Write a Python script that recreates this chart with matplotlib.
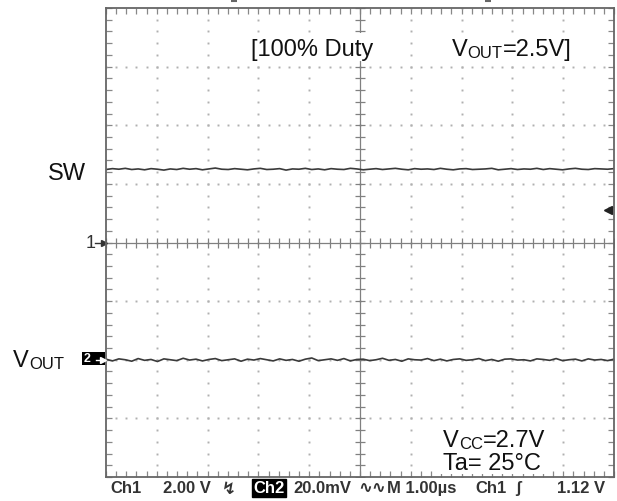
import numpy as np
import matplotlib.pyplot as plt
from matplotlib.patches import Rectangle

# Scope settings (from the status bar)
ch1_scale = 2.00      # V/div
ch2_scale = 20.0      # mV/div
time_scale = 1.00     # us/div
trig_level = 1.12     # V on Ch1
ch2_ground = -2.0     # div (Ch2 marker position)

# SW trace, volts (100 % duty -> sits at VOUT)
sw_v = [2.49, 2.52, 2.50, 2.53, 2.49, 2.51, 2.48, 2.52, 2.50, 2.47,
        2.51, 2.49, 2.53, 2.50, 2.52, 2.48, 2.51, 2.54, 2.50, 2.49,
        2.52, 2.50, 2.48, 2.51, 2.53, 2.49, 2.50, 2.52, 2.47, 2.51,
        2.50, 2.53, 2.49, 2.51, 2.48, 2.52, 2.50, 2.49, 2.53, 2.51,
        2.48, 2.50, 2.52, 2.49, 2.51, 2.53, 2.50, 2.48, 2.52, 2.50,
        2.51, 2.49, 2.53, 2.50, 2.48, 2.51, 2.52, 2.49, 2.50, 2.51,
        2.53, 2.48, 2.50, 2.52, 2.49, 2.51, 2.50, 2.53, 2.49, 2.52,
        2.50, 2.48, 2.51, 2.53, 2.50, 2.49, 2.52, 2.51, 2.50, 2.52]

# VOUT ripple, mV (AC coupled)
vout_mv = [0.2, -0.4, 0.3, 0.0, -0.5, 0.4, -0.2, 0.1, -0.6, 0.3,
           0.0, -0.3, 0.5, -0.1, 0.2, -0.4, 0.1, 0.4, -0.3, 0.0,
           0.3, -0.5, 0.2, -0.1, 0.4, 0.0, -0.4, 0.3, -0.2, 0.1,
           -0.5, 0.2, 0.6, -0.3, 0.0, 0.3, -0.2, 0.4, -0.4, 0.1,
           0.2, -0.3, 0.0, 0.5, -0.2, 0.1, -0.5, 0.3, 0.0, -0.1,
           0.4, -0.3, 0.2, -0.4, 0.1, 0.3, -0.2, 0.0, 0.4, -0.3,
           0.1, -0.5, 0.2, 0.3, -0.1, 0.0, -0.4, 0.3, 0.1, -0.2,
           0.4, -0.3, 0.0, 0.2, -0.4, 0.3, -0.1, 0.1, -0.3, 0.2]

W, H = 617, 502
fig = plt.figure(figsize=(W / 100, H / 100), dpi=100)
ax = fig.add_axes([106 / W, 1 - 478 / H, 508 / W, 469 / H])
ax.set_xlim(-5, 5)
ax.set_ylim(-4, 4)

def fp(x, y):
    # pixel position -> figure fraction
    return x / W, 1 - y / H

# dotted graticule
for xv in [-4, -3, -2, -1, 1, 2, 3, 4]:
    ys = np.arange(-4, 4.01, 0.2)
    ax.plot([xv] * len(ys), ys, ls='none', marker='s', ms=1.4, color='#b0b0b0', mew=0)
for yv in [-3, -2, -1, 1, 2, 3]:
    xs = np.arange(-5, 5.01, 0.2)
    ax.plot(xs, [yv] * len(xs), ls='none', marker='s', ms=1.4, color='#b0b0b0', mew=0)

# centre axes with cross ticks
ax.axhline(0, color='#808080', lw=0.9)
ax.axvline(0, color='#808080', lw=0.9)
xs = np.arange(-5, 5.01, 0.2)
ax.plot(xs, np.zeros(len(xs)), ls='none', marker='|', ms=7, mew=0.9, color='#808080')
ys = np.arange(-4, 4.01, 0.2)
ax.plot(np.zeros(len(ys)), ys, ls='none', marker='_', ms=7, mew=0.9, color='#808080')

# frame
for s in ax.spines.values():
    s.set_color('#666666')
    s.set_linewidth(1.3)
ax.set_xticks(np.arange(-5, 5.01, 1))
ax.set_yticks(np.arange(-4, 4.01, 1))
ax.set_xticks(np.arange(-5, 5.01, 0.2), minor=True)
ax.set_yticks(np.arange(-4, 4.01, 0.2), minor=True)
ax.tick_params(which='both', direction='in', top=True, right=True,
               labelbottom=False, labelleft=False, color='#888888', length=4, width=0.9)

# traces
t_sw = np.linspace(-5, 5, len(sw_v))
ax.plot(t_sw, np.array(sw_v) / ch1_scale, color='#3a3a3a', lw=1.2)
t_vo = np.linspace(-5, 5, len(vout_mv))
ax.plot(t_vo, ch2_ground + np.array(vout_mv) / ch2_scale, color='#3a3a3a', lw=1.2)

# trigger level marker (right) and trigger position marks (top)
ax.plot([4.88], [trig_level / ch1_scale], marker='<', ms=6, color='#222222', clip_on=False)
ax.plot([-2.48, 2.52], [4.12, 4.12], ls='none', marker='_', ms=4, mew=1.5,
        color='#666666', clip_on=False)

# channel markers
ax.plot([-5.04], [0], marker='>', ms=5, color='#333333', clip_on=False)
ax.plot([-5.22, -5.04], [0, 0], color='#333333', lw=1.0, clip_on=False)
fig.text(*fp(86, 244), '1', fontsize=13, color='#333333',
         va='center', ha='left', family='Liberation Sans')
ax.add_patch(Rectangle(fp(82, 366), 23 / W, 13 / H, transform=fig.transFigure,
                       facecolor='black', edgecolor='none', clip_on=False, zorder=4))
ax.plot([-5.05], [ch2_ground], marker='>', ms=4, color='white', clip_on=False, zorder=5)
ax.plot([-5.2, -5.05], [ch2_ground, ch2_ground], color='white', lw=1.0,
        clip_on=False, zorder=5)
fig.text(*fp(84, 359), '2', fontsize=9, fontweight='bold', color='white',
         va='center', ha='left', family='Liberation Sans')

# white patches behind the in-screen annotations
for x0, y0, x1, y1 in [(246, 34, 378, 62), (448, 34, 575, 62), (439, 425, 548, 475)]:
    ax.add_patch(Rectangle(fp(x0, y1), (x1 - x0) / W, (y1 - y0) / H,
                           transform=fig.transFigure, facecolor='white',
                           edgecolor='none', zorder=2.5))

# annotations
txt = dict(fontsize=17, color='#111111', family='Liberation Sans')
sub = dict(fontsize=12, color='#111111', family='Liberation Sans')

def vsub(x, y, s, rest=''):
    t1 = fig.text(*fp(x, y), 'V', va='baseline', ha='left', **txt)
    t2 = ax.annotate(s, xy=(1, 0), xycoords=t1, va='bottom', ha='left', **sub)
    if rest:
        ax.annotate(rest, xy=(1, 0), xycoords=t2, va='bottom', ha='left', **txt)

fig.text(*fp(251, 56), '[100% Duty', va='baseline', ha='left', **txt)
vsub(452, 56, 'OUT', '=2.5V]')
fig.text(*fp(48, 180), 'SW', va='baseline', ha='left', **txt)
vsub(13, 367, 'OUT')
vsub(443, 447, 'CC', '=2.7V')
fig.text(*fp(443, 470), 'Ta= 25°C', va='baseline', ha='left', **txt)

# status bar
status_labels = ['Ch1', f'{ch1_scale:.2f} V', '↯', 'Ch2', f'{ch2_scale:.1f}mV',
                 '∿∿', f'M {time_scale:.2f}µs', 'Ch1', 'ʃ', f'{trig_level:.2f} V']
status_x = [110, 163, 222, 253, 293, 358, 387, 475, 515, 557]
for lab, x in zip(status_labels, status_x):
    kw = dict(fontsize=12, fontweight='bold', color='#333333', va='center', ha='left',
              family=['Liberation Sans', 'DejaVu Sans'])
    if lab == 'Ch2':
        kw['color'] = 'white'
        kw['bbox'] = dict(facecolor='black', edgecolor='black', pad=1)
    fig.text(*fp(x, 489), lab, **kw)

fig.savefig('out.png', dpi=100)
